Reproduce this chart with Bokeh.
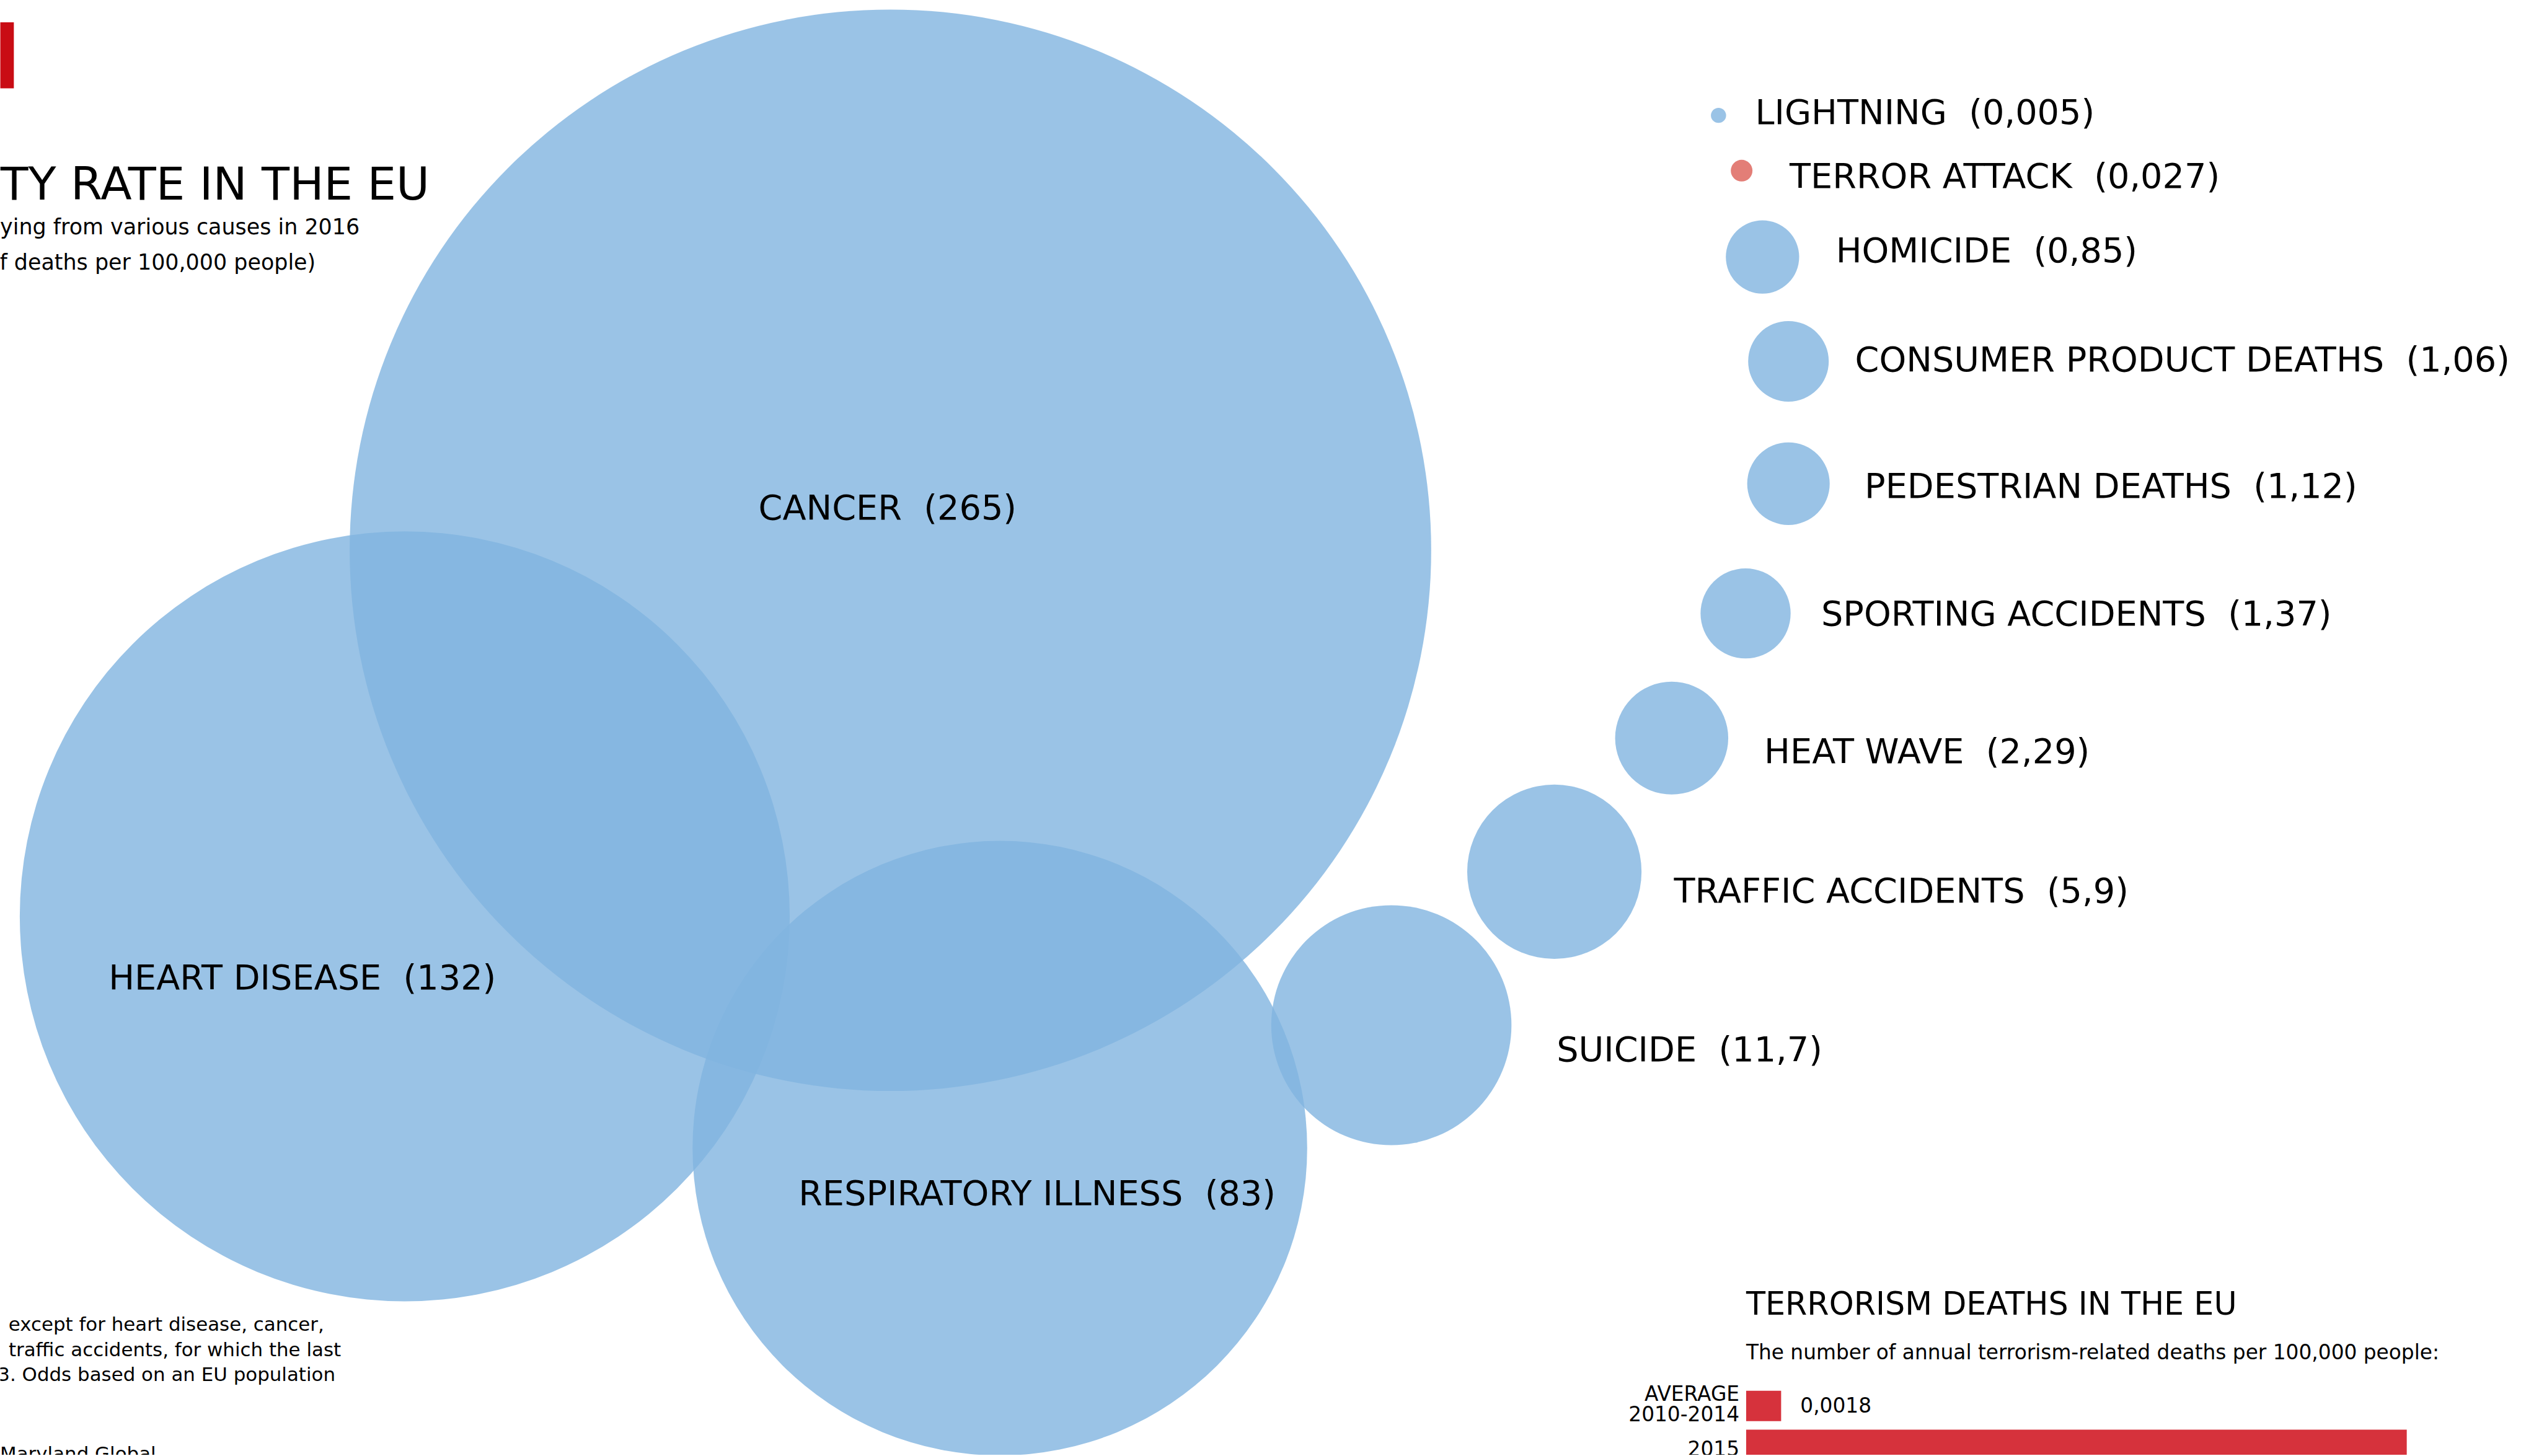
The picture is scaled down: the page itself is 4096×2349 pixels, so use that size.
from bokeh.plotting import figure
from bokeh.models import Range1d, ColumnDataSource
from bokeh.core.properties import value
from bokeh.embed import file_html
from bokeh.resources import INLINE

# ---------------- data ----------------
CAUSES = ["LIGHTNING", "TERROR ATTACK", "HOMICIDE", "CONSUMER PRODUCT DEATHS",
          "PEDESTRIAN DEATHS", "SPORTING ACCIDENTS", "HEAT WAVE",
          "TRAFFIC ACCIDENTS", "SUICIDE", "RESPIRATORY ILLNESS",
          "HEART DISEASE", "CANCER"]
RATES = [0.005, 0.027, 0.85, 1.06, 1.12, 1.37, 2.29, 5.9, 11.7, 83, 132, 265]

BAR_LABELS = [["AVERAGE", "2010-2014"], ["2015"]]
BAR_VALUES = [0.0018, 0.034]
BAR_VALUE_TEXT = ["0,0018", ""]

TITLE = "TY RATE IN THE EU"
SUBTITLE = ["ying from various causes in 2016", "of deaths per 100,000 people)"]
NOTES = ["except for heart disease, cancer,",
         "traffic accidents, for which the last",
         "3. Odds based on an EU population"]
SOURCE = "Maryland Global"
T_TITLE = "TERRORISM DEATHS IN THE EU"
T_SUB = "The number of annual terrorism-related deaths per 100,000 people:"

# ---------------- layout (reference-pixel coordinates) ----------------
S = 0.91
W, H = 4092, 2347
# bubble centres (layout of the packed arrangement)
BX = [3046, 3087, 3124, 3170, 3170, 3094, 2963, 2755, 2466, 1772, 717, 1578]
BY = [204, 302, 455, 640, 857, 1087, 1308, 1545, 1817, 2035, 1624, 975]
# label anchors (left x, baseline y)
LX = [3111, 3172, 3254, 3288, 3305, 3228, 3127, 2967, 2759, 1415, 192, 1344]
LY = [219, 332, 464, 657, 882, 1108, 1352, 1599, 1880, 2136, 1753, 920]


def radius(v):
    # size scale (power scale with small floor so tiny values stay visible)
    return 9 + 60.66 * v ** 0.493


def fmt(v):
    return f"{v:g}".replace(".", ",")


p = figure(width=W, height=H,
           x_range=Range1d(0, W / S),
           y_range=Range1d(H / S, 0),
           output_backend="svg", toolbar_location=None,
           x_axis_location=None, y_axis_location=None,
           min_border=0, outline_line_color=None,
           background_fill_color="white", border_fill_color="white")
p.grid.visible = False

FONT = value("DejaVu Sans")
BASE_SHIFT = 0.346  # em offset from alphabetic baseline to the anchor used


def txt(xs, ys, texts, fs, align="left"):
    p.text(x=xs, y=[y - BASE_SHIFT * fs for y in ys], text=texts, text_font=FONT,
           text_font_size=f"{fs * S:.1f}px", text_baseline="alphabetic",
           text_align=align, text_color="black")


# top-left red marker
p.quad(left=[-20], right=[24], top=[39], bottom=[156], fill_color="#C90C14",
       line_color=None)

# bubbles
colors = ["#81B4E0" if c != "TERROR ATTACK" else "#DC5E55" for c in CAUSES]
src = ColumnDataSource(dict(x=BX, y=BY, r=[radius(v) for v in RATES], c=colors))
p.circle(x="x", y="y", radius="r", fill_color="c", fill_alpha=0.8,
         line_color=None, source=src)

labels = [f"{c}\u00a0\u00a0({fmt(v)})" for c, v in zip(CAUSES, RATES)]
txt(LX, LY, labels, 61.2)

# title block (cropped at left edge in the original)
txt([761], [353], [TITLE], 81, "right")
txt([637, 559], [415, 477], SUBTITLE, 38.3, "right")

# notes
txt([574, 604, 594], [2358, 2403, 2448], NOTES, 34, "right")
txt([276], [2588], [SOURCE], 34, "right")

# terrorism bar panel
BAR_LEFT = 3095
K = 62 / 0.0018  # px per unit
bar_y = [2492, 2561]
p.hbar(y=bar_y, left=BAR_LEFT, right=[BAR_LEFT + v * K for v in BAR_VALUES],
       height=54, fill_color="#D6323C", line_color=None)
txt([BAR_LEFT], [2330], [T_TITLE], 55.8)
txt([BAR_LEFT], [2410], [T_SUB], 36)
txt([3083, 3083, 3083], [2483, 2518, 2580],
    [BAR_LABELS[0][0], BAR_LABELS[0][1], BAR_LABELS[1][0]], 36, "right")
txt([BAR_LEFT + BAR_VALUES[0] * K + 34], [2503], [BAR_VALUE_TEXT[0]], 36)

open("out.html", "w").write(file_html(p, INLINE))
